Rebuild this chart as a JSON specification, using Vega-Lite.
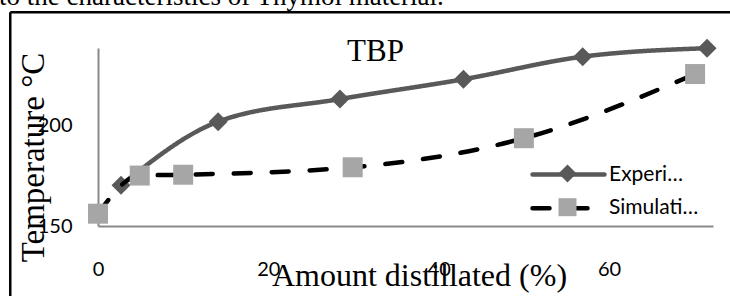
{
  "$schema": "https://vega.github.io/schema/vega-lite/v6.json",
  "width": 615,
  "height": 178,
  "autosize": {"type": "none"},
  "padding": {"left": 98, "top": 48, "right": 17, "bottom": 70},
  "background": "white",
  "config": {"view": {"stroke": null}, "font": "Lato"},
  "title": {
    "text": "to the characteristics of Thymol material.",
    "anchor": "start",
    "frame": "group",
    "font": "Liberation Serif",
    "fontSize": 27,
    "fontWeight": "normal",
    "color": "#000000",
    "baseline": "alphabetic",
    "offset": 6,
    "dy": 27,
    "dx": -99
  },
  "data": {
    "values": [
      {"series": "Experimental", "distilled": 2.7, "temp": 170.2},
      {"series": "Experimental", "distilled": 14.1, "temp": 201.7},
      {"series": "Experimental", "distilled": 28.4, "temp": 212.9},
      {"series": "Experimental", "distilled": 42.9, "temp": 222.7},
      {"series": "Experimental", "distilled": 56.9, "temp": 233.9},
      {"series": "Experimental", "distilled": 71.5, "temp": 238.1},
      {"series": "Simulation", "distilled": 0, "temp": 156.1},
      {"series": "Simulation", "distilled": 4.9, "temp": 175.0},
      {"series": "Simulation", "distilled": 10.0, "temp": 175.4},
      {"series": "Simulation", "distilled": 29.9, "temp": 179.1},
      {"series": "Simulation", "distilled": 50.0, "temp": 193.5},
      {"series": "Simulation", "distilled": 70.1, "temp": 225.3}
    ]
  },
  "resolve": {"axis": {"x": "independent"}},
  "layer": [
    {
      "transform": [{"filter": "datum.series === 'Experimental'"}],
      "mark": {"type": "line", "interpolate": "monotone", "strokeWidth": 4.5, "strokeCap": "round"},
      "encoding": {
        "x": {
          "field": "distilled", "type": "quantitative",
          "scale": {"domain": [0, 72.2], "nice": false, "zero": false},
          "axis": {
            "orient": "bottom", "values": [0, 20, 40, 60],
            "domainColor": "#898989", "domainWidth": 2,
            "ticks": false, "tickSize": 0, "grid": false, "labelFlush": false,
            "labelFont": "Lato", "labelFontSize": 20, "labelColor": "#000000",
            "labelBaseline": "alphabetic", "labelPadding": 49,
            "title": "Amount distillated (%)",
            "titleFont": "Liberation Serif", "titleFontSize": 32, "titleFontWeight": "normal", "titleColor": "#000000",
            "titleX": 321, "titleY": 59, "titleBaseline": "alphabetic", "titleAlign": "center"
          }
        },
        "y": {
          "field": "temp", "type": "quantitative",
          "scale": {"domain": [150, 238.2], "nice": false, "zero": false},
          "axis": {
            "values": [150, 200],
            "domainColor": "#898989", "domainWidth": 2,
            "ticks": false, "tickSize": 0, "grid": false, "labelFlush": false,
            "labelFont": "Lato", "labelFontSize": 20, "labelColor": "#000000", "labelPadding": 26,
            "title": "Temperature °C",
            "titleFont": "Liberation Serif", "titleFontSize": 33, "titleFontWeight": "normal", "titleColor": "#000000",
            "titleX": -55, "titleY": 109, "titleBaseline": "alphabetic", "titleAlign": "center", "titleAngle": 270
          }
        },
        "stroke": {
          "field": "series", "type": "nominal",
          "scale": {"range": ["#595959", "#000000"]},
          "legend": {
            "orient": "none", "legendX": 459, "legendY": 115, "title": null, "padding": 0,
            "symbolType": "M-4,0H4", "symbolSize": 324, "symbolStrokeWidth": 4.5,
            "labelFont": "Lato", "labelFontSize": 21, "labelColor": "#000000", "labelOffset": 29, "labelLimit": 90,
            "rowPadding": 11.7,
            "encode": {"symbols": {"update": {"strokeCap": {"value": "round"}}}}
          }
        },
        "strokeDash": {
          "field": "series", "type": "nominal",
          "scale": {"range": [[1, 0], [17, 21]]},
          "legend": {
            "orient": "none", "legendX": 459, "legendY": 115, "title": null, "padding": 0,
            "symbolType": "M-4,0H4", "symbolSize": 324, "symbolStrokeWidth": 4.5,
            "labelFont": "Lato", "labelFontSize": 21, "labelColor": "#000000", "labelOffset": 29, "labelLimit": 90,
            "rowPadding": 11.7
          }
        }
      }
    },
    {
      "transform": [{"filter": "datum.series === 'Experimental'"}],
      "mark": {"type": "point", "filled": true, "size": 361, "opacity": 1, "strokeWidth": 0},
      "encoding": {
        "x": {
          "field": "distilled", "type": "quantitative",
          "scale": {"domain": [0, 72.2], "nice": false, "zero": false},
          "axis": {
            "orient": "top", "domain": false, "ticks": false, "labels": false, "grid": false,
            "title": "TBP",
            "titleFont": "Liberation Serif", "titleFontSize": 31, "titleFontWeight": "normal", "titleColor": "#000000",
            "titleX": 277, "titleY": 12, "titleBaseline": "alphabetic", "titleAlign": "center"
          }
        },
        "y": {
          "field": "temp", "type": "quantitative",
          "scale": {"domain": [150, 238.2], "nice": false, "zero": false},
          "axis": {
            "values": [150, 200],
            "domainColor": "#898989", "domainWidth": 2,
            "ticks": false, "tickSize": 0, "grid": false, "labelFlush": false,
            "labelFont": "Lato", "labelFontSize": 20, "labelColor": "#000000", "labelPadding": 26,
            "title": "Temperature °C",
            "titleFont": "Liberation Serif", "titleFontSize": 33, "titleFontWeight": "normal", "titleColor": "#000000",
            "titleX": -55, "titleY": 109, "titleBaseline": "alphabetic", "titleAlign": "center", "titleAngle": 270
          }
        },
        "shape": {
          "field": "series", "type": "nominal",
          "scale": {"domain": ["Experimental", "Simulation"], "range": ["diamond", "square"]},
          "legend": {
            "orient": "none", "legendX": 459, "legendY": 115, "title": null, "padding": 0,
            "symbolSize": 324, "symbolStrokeWidth": 0,
            "labelFont": "Lato", "labelFontSize": 21, "labelOpacity": 0, "labelOffset": 29, "labelLimit": 90,
            "rowPadding": 11.7
          }
        },
        "fill": {
          "field": "series", "type": "nominal",
          "scale": {"domain": ["Experimental", "Simulation"], "range": ["#595959", "#A6A6A6"]},
          "legend": {
            "orient": "none", "legendX": 459, "legendY": 115, "title": null, "padding": 0,
            "symbolSize": 324, "symbolStrokeWidth": 0,
            "labelFont": "Lato", "labelFontSize": 21, "labelOpacity": 0, "labelOffset": 29, "labelLimit": 90,
            "rowPadding": 11.7
          }
        }
      }
    },
    {
      "transform": [{"filter": "datum.series === 'Simulation'"}],
      "mark": {"type": "line", "interpolate": "monotone", "strokeWidth": 4.5, "strokeCap": "round"},
      "encoding": {
        "x": {"field": "distilled", "type": "quantitative", "scale": {"domain": [0, 72.2], "nice": false, "zero": false}, "axis": null},
        "y": {
          "field": "temp", "type": "quantitative",
          "scale": {"domain": [150, 238.2], "nice": false, "zero": false},
          "axis": {
            "values": [150, 200],
            "domainColor": "#898989", "domainWidth": 2,
            "ticks": false, "tickSize": 0, "grid": false, "labelFlush": false,
            "labelFont": "Lato", "labelFontSize": 20, "labelColor": "#000000", "labelPadding": 26,
            "title": "Temperature °C",
            "titleFont": "Liberation Serif", "titleFontSize": 33, "titleFontWeight": "normal", "titleColor": "#000000",
            "titleX": -55, "titleY": 109, "titleBaseline": "alphabetic", "titleAlign": "center", "titleAngle": 270
          }
        },
        "stroke": {"field": "series", "type": "nominal"},
        "strokeDash": {"field": "series", "type": "nominal"}
      }
    },
    {
      "transform": [{"filter": "datum.series === 'Simulation'"}],
      "mark": {"type": "point", "filled": true, "size": 400, "opacity": 1, "strokeWidth": 0},
      "encoding": {
        "x": {"field": "distilled", "type": "quantitative", "scale": {"domain": [0, 72.2], "nice": false, "zero": false}, "axis": null},
        "y": {
          "field": "temp", "type": "quantitative",
          "scale": {"domain": [150, 238.2], "nice": false, "zero": false},
          "axis": {
            "values": [150, 200],
            "domainColor": "#898989", "domainWidth": 2,
            "ticks": false, "tickSize": 0, "grid": false, "labelFlush": false,
            "labelFont": "Lato", "labelFontSize": 20, "labelColor": "#000000", "labelPadding": 26,
            "title": "Temperature °C",
            "titleFont": "Liberation Serif", "titleFontSize": 33, "titleFontWeight": "normal", "titleColor": "#000000",
            "titleX": -55, "titleY": 109, "titleBaseline": "alphabetic", "titleAlign": "center", "titleAngle": 270
          }
        },
        "shape": {"field": "series", "type": "nominal"},
        "fill": {"field": "series", "type": "nominal"}
      }
    },
    {
      "data": {"values": [{}]},
      "mark": {"type": "rule", "color": "#000000", "strokeWidth": 2.5},
      "encoding": {
        "x": {"datum": -10.3, "type": "quantitative", "scale": {"domain": [0, 72.2], "nice": false, "zero": false}, "axis": null},
        "y": {
          "datum": 255.9, "type": "quantitative",
          "scale": {"domain": [150, 238.2], "nice": false, "zero": false},
          "axis": {
            "values": [150, 200],
            "domainColor": "#898989", "domainWidth": 2,
            "ticks": false, "tickSize": 0, "grid": false, "labelFlush": false,
            "labelFont": "Lato", "labelFontSize": 20, "labelColor": "#000000", "labelPadding": 26,
            "title": "Temperature °C",
            "titleFont": "Liberation Serif", "titleFontSize": 33, "titleFontWeight": "normal", "titleColor": "#000000",
            "titleX": -55, "titleY": 109, "titleBaseline": "alphabetic", "titleAlign": "center", "titleAngle": 270
          }
        },
        "y2": {"datum": 110}
      }
    },
    {
      "data": {"values": [{}]},
      "mark": {"type": "rule", "color": "#000000", "strokeWidth": 2.5},
      "encoding": {
        "x": {"datum": -10.3, "type": "quantitative", "scale": {"domain": [0, 72.2], "nice": false, "zero": false}, "axis": null},
        "x2": {"datum": 80},
        "y": {
          "datum": 255.9, "type": "quantitative",
          "scale": {"domain": [150, 238.2], "nice": false, "zero": false},
          "axis": {
            "values": [150, 200],
            "domainColor": "#898989", "domainWidth": 2,
            "ticks": false, "tickSize": 0, "grid": false, "labelFlush": false,
            "labelFont": "Lato", "labelFontSize": 20, "labelColor": "#000000", "labelPadding": 26,
            "title": "Temperature °C",
            "titleFont": "Liberation Serif", "titleFontSize": 33, "titleFontWeight": "normal", "titleColor": "#000000",
            "titleX": -55, "titleY": 109, "titleBaseline": "alphabetic", "titleAlign": "center", "titleAngle": 270
          }
        }
      }
    }
  ]
}
